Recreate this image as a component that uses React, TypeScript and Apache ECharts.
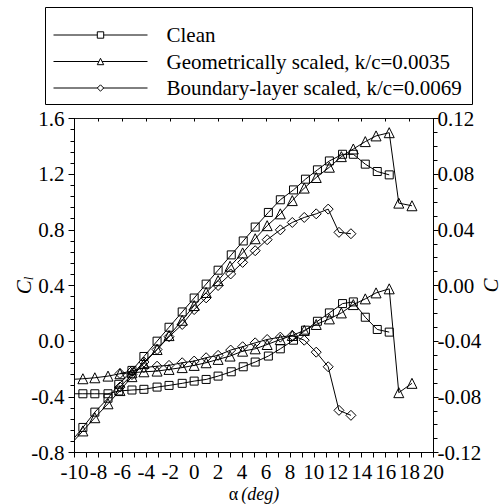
import React, { useEffect, useRef } from 'react';
import * as echarts from 'echarts';

// ---- Data ----
const seriesNames = [
  'Clean',
  'Geometrically scaled, k/c=0.0035',
  'Boundary-layer scaled, k/c=0.0069',
];

const cleanAlpha = [-10.3, -9.3, -8.3, -7.2, -6.3, -5.2, -4.2, -3.1, -2.1, -1.0, 0.0, 1.0, 2.0, 3.1, 4.1, 5.1, 6.2, 7.2, 8.3, 9.3, 10.3, 11.3, 12.4, 13.3, 14.3, 15.3, 16.3];
const cleanCl = [-0.725, -0.62, -0.51, -0.41, -0.31, -0.21, -0.11, 0.0, 0.10, 0.21, 0.31, 0.41, 0.51, 0.62, 0.72, 0.82, 0.925, 1.016, 1.087, 1.164, 1.231, 1.295, 1.343, 1.343, 1.272, 1.219, 1.195];
const cleanCm = [-0.0778, -0.0778, -0.0778, -0.0778, -0.0758, -0.0751, -0.0746, -0.073, -0.0718, -0.0703, -0.0687, -0.0675, -0.0651, -0.062, -0.0584, -0.055, -0.0507, -0.0455, -0.0393, -0.0321, -0.0257, -0.0197, -0.013, -0.0118, -0.0228, -0.0316, -0.0335];

const geoAlpha = [-10.3, -9.3, -8.3, -7.2, -6.2, -5.2, -4.2, -3.1, -2.1, -1.0, 0.0, 1.0, 2.0, 3.0, 4.05, 5.1, 6.1, 7.2, 8.2, 9.2, 10.2, 11.3, 12.3, 13.3, 14.3, 15.2, 16.3, 17.1, 18.2];
const geoCl = [-0.74, -0.645, -0.55, -0.45, -0.355, -0.255, -0.16, -0.06, 0.04, 0.15, 0.256, 0.35, 0.435, 0.538, 0.634, 0.736, 0.83, 0.915, 1.01, 1.10, 1.176, 1.25, 1.326, 1.381, 1.434, 1.475, 1.498, 0.992, 0.973];
const geoCm = [-0.0675, -0.067, -0.0663, -0.0651, -0.0634, -0.0627, -0.062, -0.0615, -0.0603, -0.059, -0.0574, -0.0555, -0.0531, -0.0507, -0.0472, -0.0455, -0.0424, -0.0388, -0.0359, -0.0323, -0.028, -0.024, -0.0197, -0.0137, -0.0096, -0.0053, -0.0024, -0.077, -0.0703];

const blAlpha = [-6.2, -5.2, -4.2, -3.1, -2.1, -1.0, 0.0, 1.0, 2.0, 3.05, 4.05, 5.1, 6.1, 7.2, 8.2, 9.2, 10.2, 11.2, 12.1, 13.1];
const blCl = [-0.33, -0.24, -0.15, -0.06, 0.032, 0.12, 0.227, 0.311, 0.40, 0.483, 0.566, 0.65, 0.729, 0.80, 0.853, 0.889, 0.915, 0.949, 0.782, 0.772];
const blCm = [-0.0632, -0.0615, -0.059, -0.058, -0.0574, -0.0555, -0.0543, -0.0519, -0.0502, -0.0464, -0.044, -0.0412, -0.0388, -0.0371, -0.0359, -0.0393, -0.0479, -0.0584, -0.0897, -0.0933];

const FONT = "'Liberation Serif', 'Times New Roman', serif";

function mk(name: string, symbol: string, size: number, xs: number[], ys: number[], yAxisIndex: number) {
  return {
    name,
    type: 'line',
    yAxisIndex,
    data: xs.map((x, i) => [x, ys[i]]),
    symbol,
    symbolSize: size,
    showAllSymbol: true,
    clip: true,
    silent: true,
    lineStyle: { color: '#000', width: 1 },
    itemStyle: { color: 'rgba(255,255,255,0)', borderColor: '#000', borderWidth: 1 },
    emphasis: { disabled: true },
  };
}

export default function App() {
  const ref = useRef<HTMLDivElement>(null);
  useEffect(() => {
    if (!ref.current) return;
    const chart = echarts.init(ref.current, null, { renderer: 'svg' });
    const axisLine = { show: true, onZero: false, lineStyle: { color: '#000', width: 1 } };
    const lbl = { color: '#000', fontSize: 21, fontFamily: FONT, hideOverlap: false, showMinLabel: true, showMaxLabel: true };
    chart.setOption({
      animation: false,
      textStyle: { fontFamily: FONT, color: '#000' },
      grid: { left: 74.5, right: 69.5, top: 118.5, bottom: 51.5, containLabel: false, outerBoundsMode: 'none' },
      legend: {
        data: seriesNames,
        orient: 'vertical',
        left: 53,
        top: 24.5,
        itemWidth: 94,
        itemHeight: 8,
        itemGap: 5.5,
        padding: 0,
        selectedMode: false,
        itemStyle: { color: '#fff', borderColor: '#000', borderWidth: 1 },
        lineStyle: { color: '#000', width: 1 },
        textStyle: { fontSize: 21, fontFamily: FONT, color: '#000', padding: [0, 0, 0, 14] },
      },
      graphic: [
        {
          type: 'rect',
          shape: { x: 45.5, y: 7.5, width: 427, height: 97 },
          style: { fill: 'none', stroke: '#000', lineWidth: 1 },
          silent: true,
        },
      ],
      xAxis: [
        {
          type: 'value',
          min: -10,
          max: 20,
          interval: 2,
          position: 'bottom',
          axisLine,
          axisTick: { show: true, inside: false, length: 5, lineStyle: { color: '#000' } },
          minorTick: { show: true, splitNumber: 2, length: 5, lineStyle: { color: '#000' } },
          splitLine: { show: false },
          axisLabel: { ...lbl, margin: 11, lineHeight: 17 },
          name: '{a|α} {b|(deg)}',
          nameLocation: 'middle',
          nameGap: 33,
          nameMoveOverlap: false,
          nameTextStyle: {
            lineHeight: 17,
            rich: {
              a: { fontSize: 18, lineHeight: 17, fontFamily: FONT, color: '#000' },
              b: { fontSize: 18, lineHeight: 17, fontFamily: FONT, fontStyle: 'italic', color: '#000' },
            },
          },
        },
        {
          type: 'value',
          min: -10,
          max: 20,
          interval: 2,
          position: 'top',
          axisLine: { show: true, onZero: false, lineStyle: { color: '#000', width: 1, type: 'dotted' } },
          axisTick: { show: true, inside: true, length: 3, lineStyle: { color: '#000' } },
          axisLabel: { show: false },
          splitLine: { show: false },
        },
      ],
      yAxis: [
        {
          type: 'value',
          min: -0.8,
          max: 1.6,
          interval: 0.4,
          position: 'left',
          axisLine,
          axisTick: { show: true, inside: false, length: 6, lineStyle: { color: '#000' } },
          minorTick: { show: true, splitNumber: 5, length: 4, lineStyle: { color: '#000' } },
          splitLine: { show: false },
          axisLabel: { ...lbl, margin: 10, formatter: (v: number) => (Math.abs(v) < 1e-9 ? '0.0' : v.toFixed(1)) },
          name: '{c|C}{s|l}',
          nameLocation: 'middle',
          nameGap: 40,
          nameRotate: 90,
          nameMoveOverlap: false,
          nameTextStyle: {
            rich: {
              c: { fontSize: 21, fontFamily: FONT, fontStyle: 'italic', color: '#000', verticalAlign: 'bottom' },
              s: { fontSize: 13, fontFamily: FONT, fontStyle: 'italic', color: '#000', verticalAlign: 'bottom' },
            },
          },
        },
        {
          type: 'value',
          min: -0.12,
          max: 0.12,
          interval: 0.04,
          position: 'right',
          axisLine,
          axisTick: { show: true, inside: false, length: 5, lineStyle: { color: '#000' } },
          minorTick: { show: true, splitNumber: 4, length: 4, lineStyle: { color: '#000' } },
          splitLine: { show: false },
          axisLabel: { ...lbl, margin: 4, formatter: (v: number) => (Math.abs(v) < 1e-9 ? '0.00' : v.toFixed(2)) },
          name: 'C',
          nameLocation: 'middle',
          nameGap: 47,
          nameRotate: 90,
          nameMoveOverlap: false,
          nameTextStyle: { fontSize: 21, fontFamily: FONT, fontStyle: 'italic', color: '#000' },
        },
      ],
      series: [
        mk(seriesNames[0], 'rect', 8, cleanAlpha, cleanCl, 0),
        mk(seriesNames[1], 'triangle', 10, geoAlpha, geoCl, 0),
        mk(seriesNames[2], 'diamond', 10, blAlpha, blCl, 0),
        mk(seriesNames[0], 'rect', 8, cleanAlpha, cleanCm, 1),
        mk(seriesNames[1], 'triangle', 10, geoAlpha, geoCm, 1),
        mk(seriesNames[2], 'diamond', 10, blAlpha, blCm, 1),
      ],
    });
    return () => chart.dispose();
  }, []);
  return (
    <div
      ref={ref}
      style={{ position: 'fixed', left: 0, top: 0, width: 503, height: 504, background: '#fff' }}
    />
  );
}
